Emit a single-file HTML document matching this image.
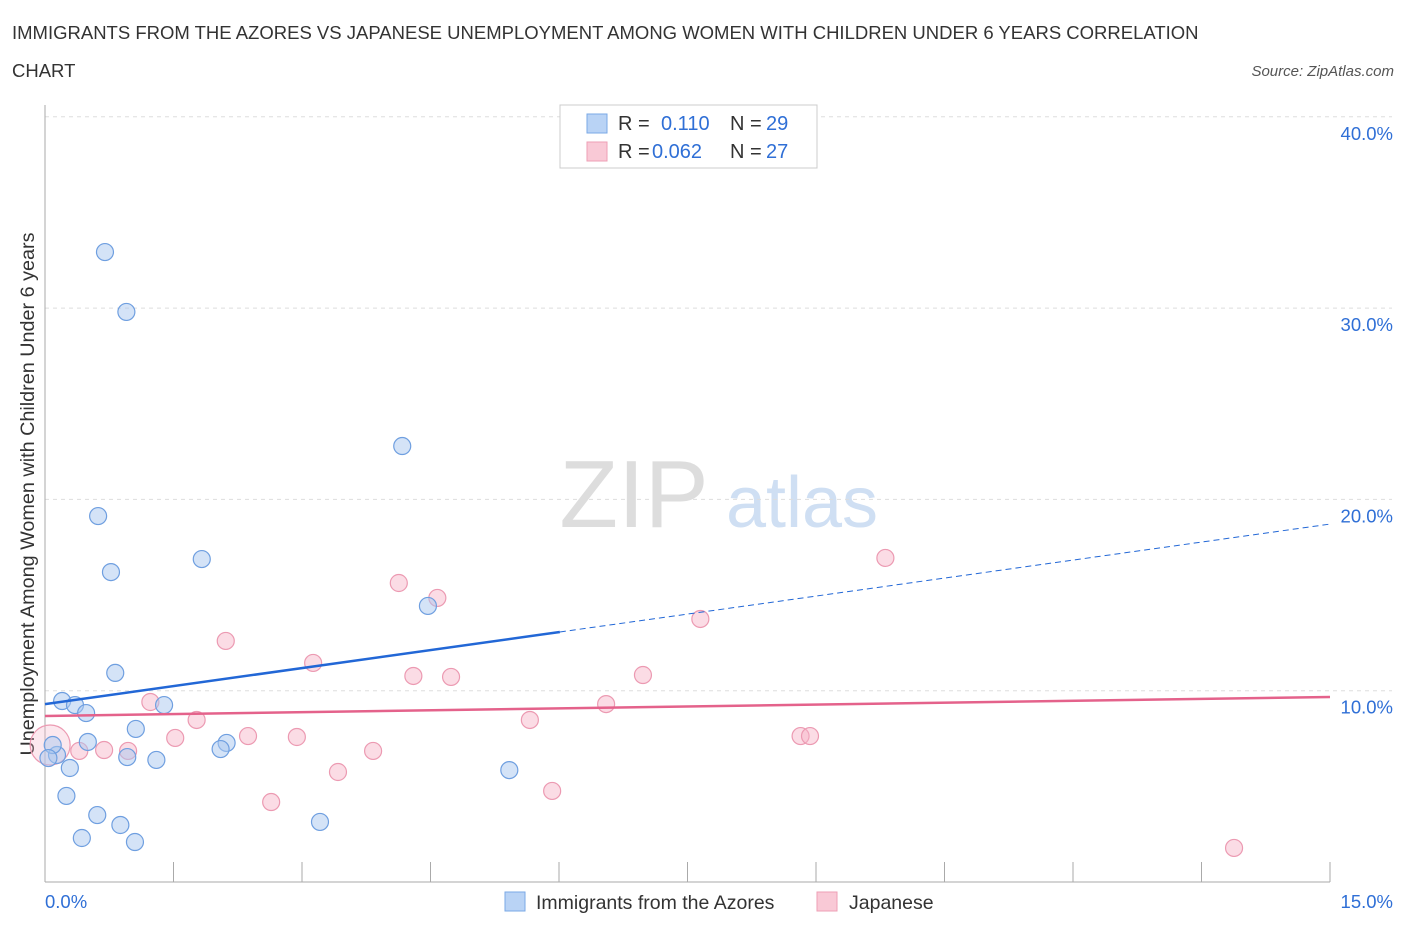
<!DOCTYPE html>
<html><head><meta charset="utf-8"><style>
body{margin:0;background:#fff;font-family:"Liberation Sans",sans-serif}
svg text{font-family:"Liberation Sans",sans-serif}
</style></head><body>
<svg id="c" width="1406" height="930">
<text x="12" y="39" font-size="18.5" fill="#333">IMMIGRANTS FROM THE AZORES VS JAPANESE UNEMPLOYMENT AMONG WOMEN WITH CHILDREN UNDER 6 YEARS CORRELATION</text>
<text x="12" y="77" font-size="18.5" fill="#333">CHART</text>
<text x="1394" y="76" font-size="15" fill="#555" font-style="italic" text-anchor="end">Source: ZipAtlas.com</text>
<text x="634" y="527" font-size="96" fill="#ddd" font-family="Liberation Serif" text-anchor="middle">ZIP</text>
<text x="802" y="527" font-size="72" fill="#cfdff3" text-anchor="middle">atlas</text>
<text transform="translate(34,494) rotate(-90)" font-size="19.8" fill="#333" text-anchor="middle">Unemployment Among Women with Children Under 6 years</text>
<g id="grid"></g><g id="marks"></g>
<g>
<rect x="560" y="105" width="257" height="63" fill="#fff" stroke="#ccc"/>
<rect x="587" y="114" width="20" height="19" fill="#b9d3f5" stroke="#7aa8e6"/>
<rect x="587" y="142" width="20" height="19" fill="#f9c9d6" stroke="#ee9fb5"/>
<text x="618" y="130" font-size="20" fill="#333">R = </text><text x="661" y="130" font-size="20" fill="#2f6fd6">0.110</text>
<text x="730" y="130" font-size="20" fill="#333">N = </text><text x="766" y="130" font-size="20" fill="#2f6fd6">29</text>
<text x="618" y="158" font-size="20" fill="#333">R = </text><text x="652" y="158" font-size="20" fill="#2f6fd6">0.062</text>
<text x="730" y="158" font-size="20" fill="#333">N = </text><text x="766" y="158" font-size="20" fill="#2f6fd6">27</text>
</g>
<g>
<rect x="505" y="892" width="20" height="19" fill="#b9d3f5" stroke="#7aa8e6"/>
<text x="536" y="909" font-size="19.5" fill="#333">Immigrants from the Azores</text>
<rect x="817" y="892" width="20" height="19" fill="#f9c9d6" stroke="#ee9fb5"/>
<text x="849" y="909" font-size="19.5" fill="#333">Japanese</text>
</g>
</svg>
<script>
const yTicks=[10,20,30,40];
const yTickLabels=["10.0%","20.0%","30.0%","40.0%"];
const xTickLabels=["0.0%","15.0%"];
const blueX=[0.70,0.95,4.17,0.62,1.83,0.77,4.47,0.82,0.20,0.35,0.48,1.39,1.06,0.50,2.12,2.05,0.96,1.30,0.14,0.09,0.04,0.29,0.25,0.61,0.88,0.43,1.05,3.21,5.42];
const blueY=[32.93,29.80,22.79,19.13,16.88,16.20,14.43,10.93,9.46,9.25,8.83,9.25,8.00,7.32,7.27,6.95,6.53,6.38,6.64,7.16,6.48,5.96,4.50,3.50,2.98,2.30,2.09,3.14,5.85];
const pinkX=[9.81,4.13,4.58,7.65,2.11,3.13,4.30,4.74,6.98,1.23,6.55,1.77,5.66,1.52,2.37,2.94,8.82,8.93,0.69,0.97,0.40,3.83,3.42,5.92,2.64,13.88,0.06];
const pinkY=[16.94,15.63,14.85,13.75,12.60,11.45,10.77,10.72,10.82,9.41,9.30,8.47,8.47,7.53,7.63,7.58,7.63,7.63,6.90,6.85,6.85,6.85,5.75,4.76,4.18,1.78,7.16];
const blueTrend=[9.30,18.71];
const pinkTrend=[8.68,9.67];
const blueSolidEnd=6.01;
const NS="http://www.w3.org/2000/svg";
const X=v=>45+v*1285/15, Y=v=>882-v*19.13;
function mk(t,a,p){const e=document.createElementNS(NS,t);for(const k in a)e.setAttribute(k,a[k]);p.appendChild(e);return e;}
const g=document.getElementById('grid'),m=document.getElementById('marks');
yTicks.forEach((t,i)=>{
 const l=mk('line',{x1:45,x2:1392,y1:Y(t),y2:Y(t),stroke:'#ddd','stroke-dasharray':'4,4'},g);
 
 
 const tx=mk('text',{x:1393,y:Y(t)+23,'font-size':18.5,fill:'#2f6fd6','text-anchor':'end'},g);
 tx.textContent=yTickLabels[i];
 
 
});
mk('line',{x1:45,x2:45,y1:105,y2:882,stroke:'#aaa'},g);
mk('line',{x1:45,x2:1330,y1:882,y2:882,stroke:'#aaa'},g);
for(let i=0;i<=10;i++){
 const t=mk('line',{x1:X(i*1.5),x2:X(i*1.5),y1:862,y2:882,stroke:'#aaa'},g);
 
 
}
[[0,'start',45],[15,'end',1393]].forEach((d,i)=>{
 const tx=mk('text',{x:d[2],y:908,'font-size':18.5,fill:'#2f6fd6','text-anchor':d[1]},g);
 tx.textContent=xTickLabels[i];
 
 
});
function dot(x,y,r,f,s,name){const c=mk('circle',{cx:X(x),cy:Y(y),r:r,fill:f,stroke:s,'stroke-width':1.2},m);
 
 }
pinkX.forEach((x,i)=>dot(x,pinkY[i],i==pinkX.length-1?20:8.5,i==pinkX.length-1?'rgba(246,178,198,0.3)':'rgba(246,178,198,0.45)','#ec9ab2','japanese-point'));
blueX.forEach((x,i)=>dot(x,blueY[i],8.5,'rgba(170,200,240,0.5)','#6f9fe0','azores-point'));
const bt=v=>blueTrend[0]+(blueTrend[1]-blueTrend[0])*v/15;
let l=mk('line',{x1:X(0),y1:Y(bt(0)),x2:X(blueSolidEnd),y2:Y(bt(blueSolidEnd)),stroke:'#2267d6','stroke-width':2.5},m);


l=mk('line',{x1:X(blueSolidEnd),y1:Y(bt(blueSolidEnd)),x2:X(15),y2:Y(bt(15)),stroke:'#2267d6','stroke-width':1,'stroke-dasharray':'6,4'},m);


l=mk('line',{x1:X(0),y1:Y(pinkTrend[0]),x2:X(15),y2:Y(pinkTrend[1]),stroke:'#e4628b','stroke-width':2.5},m);


</script>
</body></html>
